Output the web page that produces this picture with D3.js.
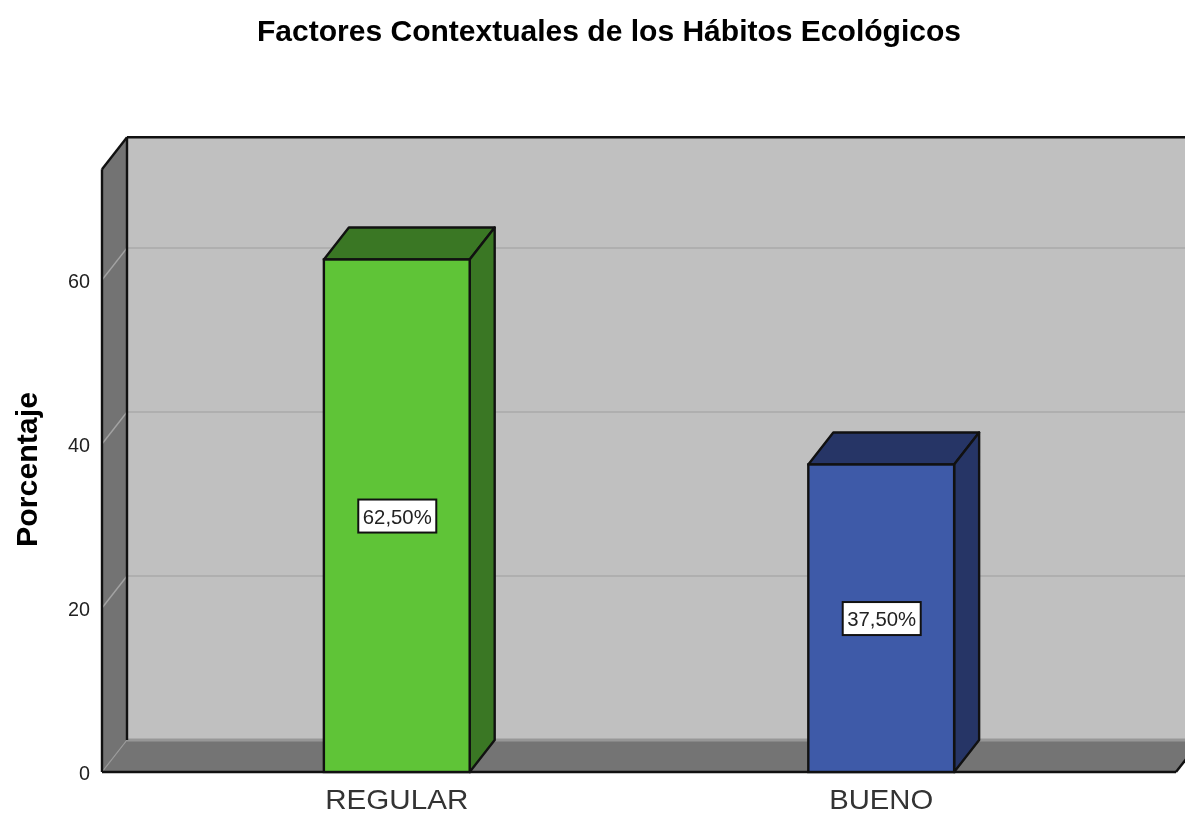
<!DOCTYPE html>
<html>
<head>
<meta charset="utf-8">
<script src="https://cdn.jsdelivr.net/npm/d3@7/dist/d3.min.js"></script>
<style>
html,body{margin:0;padding:0;background:#fff;overflow:hidden}
svg{display:block;filter:blur(0.45px)}
text{font-family:"Liberation Sans",Arial,sans-serif;fill:#111}
</style>
</head>
<body>
<script>
const categories = ["REGULAR", "BUENO"];
const values = [62.5, 37.5];
const valueLabels = ["62,50%", "37,50%"];
const tickValues = [0, 20, 40, 60];
const frontColors = ["#5fc437", "#3e5aa8"];
const sideColors = ["#3a7724", "#263566"];
const titleText = "Factores Contextuales de los Hábitos Ecológicos";
const yTitle = "Porcentaje";

const W = 1185, H = 815;
const depthX = 25, depthY = -32;
const y = d3.scaleLinear().domain([0, 73.5]).range([772, 169.3]);
const x = d3.scaleBand().domain(categories).range([102, 1176]).paddingInner(0.699).paddingOuter(0.458);
const [xL, xR] = x.range();
const yB = y(0), yT = y(73.5);

const svg = d3.select("body").append("svg").attr("width", W).attr("height", H);
const poly = (pts, fill, stroke, sw) => svg.append("polygon")
  .attr("points", pts.map(p => p.join(",")).join(" "))
  .attr("fill", fill).attr("stroke", stroke || "none").attr("stroke-width", sw || 0)
  .attr("stroke-linejoin", "round");
const seg = (a, b, stroke, sw) => svg.append("line")
  .attr("x1", a[0]).attr("y1", a[1]).attr("x2", b[0]).attr("y2", b[1])
  .attr("stroke", stroke).attr("stroke-width", sw);
const label = (px, py, str, size, len, anchor, weight, fill) => svg.append("text")
  .attr("x", px).attr("y", py).attr("text-anchor", anchor)
  .attr("font-size", size).attr("font-weight", weight || "normal")
  .attr("textLength", len).attr("lengthAdjust", "spacingAndGlyphs")
  .attr("fill", fill || "#111").style("fill", fill || "#111").text(str);

// back wall
poly([[xL + depthX, yT + depthY], [xR + depthX, yT + depthY], [xR + depthX, yB + depthY], [xL + depthX, yB + depthY]], "#c0c0c0");
// left wall
poly([[xL, yT], [xL + depthX, yT + depthY], [xL + depthX, yB + depthY], [xL, yB]], "#737373");
// gridlines
tickValues.filter(t => t > 0).forEach(t => {
  seg([xL, y(t)], [xL + depthX, y(t) + depthY], "#a3a3a3", 1.4);
  seg([xL + depthX, y(t) + depthY], [xR + depthX, y(t) + depthY], "#aaaaaa", 1.4);
});
// floor
poly([[xL, yB], [xL + depthX, yB + depthY], [xR + depthX, yB + depthY], [xR, yB]], "#747474");
seg([xL + depthX, yB + depthY], [W, yB + depthY], "#979797", 3);
seg([xL, yB], [xL + depthX, yB + depthY], "#9a9a9a", 1.2);
// frame
seg([xL + depthX, yT + depthY], [xL + depthX, yB + depthY], "#111", 2.4);
seg([xL + depthX, yT + depthY], [W, yT + depthY], "#111", 2.4);
seg([xL, yT], [xL + depthX, yT + depthY], "#111", 2.4);
seg([xL, yT], [xL, yB], "#111", 2.4);
seg([xL, yB], [xR, yB], "#111", 2.4);
seg([xR, yB], [xR + depthX, yB + depthY], "#111", 2.4);

// bars
categories.forEach((c, i) => {
  const x0 = x(c), x1 = x0 + x.bandwidth(), yv = y(values[i]);
  poly([[x0, yv], [x0 + depthX, yv + depthY], [x1 + depthX, yv + depthY], [x1, yv]], sideColors[i], "#111", 2.4);
  poly([[x1, yv], [x1 + depthX, yv + depthY], [x1 + depthX, yB + depthY], [x1, yB]], sideColors[i], "#111", 2.4);
  svg.append("rect").attr("x", x0).attr("y", yv).attr("width", x.bandwidth()).attr("height", yB - yv)
    .attr("fill", frontColors[i]).attr("stroke", "#111").attr("stroke-width", 2.4);
  const cx = x0 + x.bandwidth() / 2 + 0.5, cy = (yv + yB) / 2 + 0.3;
  svg.append("rect").attr("x", cx - 39).attr("y", cy - 16.5).attr("width", 78).attr("height", 33)
    .attr("fill", "#fff").attr("stroke", "#111").attr("stroke-width", 2);
  label(cx, cy + 7.7, valueLabels[i], 21, 69, "middle", "normal", "#222");
  label(x0 + x.bandwidth() / 2, 809, c, 28, i === 0 ? 143 : 104, "middle", "normal", "#333");
});

// y ticks
tickValues.forEach(t => {
  label(90, y(t) + 7.5, t, 21, String(t).length * 11, "end", "normal", "#222");
});

// titles
label(609, 41, titleText, 30, 704, "middle", "bold", "#000");
svg.append("text").attr("transform", "translate(37,469.5) rotate(-90)").attr("text-anchor", "middle")
  .attr("font-size", 30).attr("font-weight", "bold").attr("textLength", 155).attr("lengthAdjust", "spacingAndGlyphs")
  .style("fill", "#000").text(yTitle);
</script>
</body>
</html>
